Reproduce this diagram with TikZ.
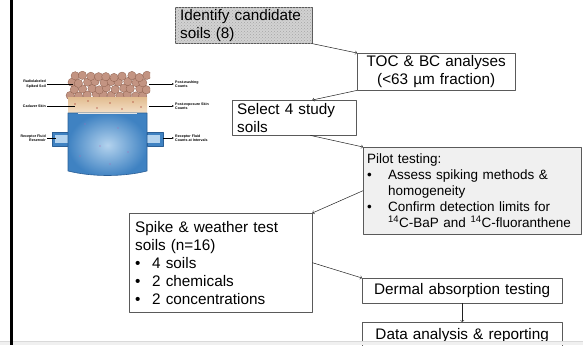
\documentclass[tikz,border=0pt]{standalone}
\usepackage{fontspec}
\setmainfont{Liberation Sans}
\usetikzlibrary{arrows.meta,patterns}

\newcommand{\stepfont}{\fontsize{15.3}{18}\selectfont}
\newcommand{\pilotfont}{\fontsize{13.5}{16.2}\selectfont}
\newcommand{\cellfont}{\fontsize{3.6}{4.4}\selectfont\bfseries}
\newcommand{\bulA}{\makebox[21pt][l]{\textbullet}}
\newcommand{\bulB}{\makebox[17pt][l]{\textbullet}}

\definecolor{boxline}{HTML}{5A5A5A}
\definecolor{pilotfill}{HTML}{F0F0F0}
\definecolor{soil}{HTML}{C39482}
\definecolor{soildark}{HTML}{8C5E4C}
\definecolor{skin}{HTML}{EBCBA3}
\definecolor{fluid}{HTML}{3F82C2}
\definecolor{fluidlight}{HTML}{B4D3EE}
\definecolor{fluiddark}{HTML}{2B5F96}

\begin{document}
\begin{tikzpicture}[x=1pt, y=-1pt, >=to, line join=round,
    flowbox/.style={draw=boxline, fill=white, anchor=north west, inner xsep=5pt,
      inner ysep=2pt, font=\stepfont, align=left},
    conn/.style={draw=gray!25!black, ->, line width=0.5pt},
    celllbl/.style={font=\cellfont, inner sep=0pt},
    cellline/.style={line width=0.35pt}]
  \useasboundingbox (0,0) rectangle (583,345);

  % diffusion cell: soil on skin over the receptor chamber
  \begin{scope}
    \clip (64,66) rectangle (150,99);
    \pgfmathsetseed{12}
    \foreach \r in {0,1,2,3}{
      \foreach \c in {0,...,9}{
        \pgfmathsetmacro{\px}{71+8*\c+mod(\r,2)*4+1.2*rand}
        \pgfmathsetmacro{\py}{95-6.2*\r+1.2*rand}
        \fill[soil, draw=soildark, line width=0.3pt] (\px,\py) circle (4.2pt);
      }
    }
  \end{scope}
  \shade[top color=skin!80!brown, bottom color=skin!60] (68,97) rectangle (147,113);
  \foreach \dx/\dy in {75/104, 88/101, 97/108, 110/103, 122/109, 133/102, 141/107}
    \fill[red!55!black] (\dx,\dy) circle (0.6pt);
  \fill[fluid, draw=fluiddark, line width=0.6pt] (52,132) rectangle (68,146);
  \fill[fluid, draw=fluiddark, line width=0.6pt] (147,132) rectangle (163,146);
  \fill[fluidlight] (55,135) rectangle (68,143);
  \fill[fluidlight] (147,135) rectangle (160,143);
  \shade[inner color=fluidlight, outer color=fluid, draw=fluiddark, line width=0.6pt]
    (68,113) -- (68,171) .. controls (92,177) and (123,177) .. (147,171) -- (147,113) -- cycle;
  \draw[gray!20, line width=1.2pt] (78,113.8) -- (137,113.8);
  \foreach \dx/\dy in {85/124, 118/128, 100/146, 80/156, 128/152, 110/164}
    \fill[violet!60] (\dx,\dy) circle (0.6pt);

  \node[celllbl, anchor=east, align=right] (soillbl) at (46,84) {Radiolabeled\\Spiked Soil};
  \node[celllbl, anchor=east, align=right] (skinlbl) at (46,106) {Cadaver Skin};
  \node[celllbl, anchor=east, align=right] (reslbl) at (46,138) {Receptor Fluid\\Reservoir};
  \node[celllbl, anchor=west, align=left] (washlbl) at (175,84) {Post-washing\\Counts};
  \node[celllbl, anchor=west, align=left] (exposlbl) at (175,106) {Post-exposure Skin\\Counts};
  \node[celllbl, anchor=west, align=left] (countlbl) at (175,138) {Receptor Fluid\\Counts at Intervals};
  \draw[cellline] (soillbl.east) ++(1,0) -- ++(26,0);
  \draw[cellline] (skinlbl.east) ++(1,0) -- ++(28,0);
  \draw[cellline] (reslbl.east) ++(1,0) -- ++(9,0);
  \draw[cellline, -{Latex[length=2pt,width=1.8pt]}] (washlbl.west) ++(-26,0) -- ++(25,0);
  \draw[cellline, -{Latex[length=2pt,width=1.8pt]}] (exposlbl.west) ++(-26,0) -- ++(25,0);
  \draw[cellline, -{Latex[length=2pt,width=1.8pt]}] (countlbl.west) ++(-12,0) -- ++(11,0);

  % study steps
  \node[flowbox, fill=gray!35, postaction={pattern=crosshatch dots, pattern color=gray!70},
    text width=127, minimum height=35] (ident) at (175,7) {Identify candidate\\soils (8)};
  \node[flowbox, align=center, text width=148, minimum height=37] (toc) at (357,53)
    {TOC \& BC analyses\\(<63 µm fraction)};
  \node[flowbox, text width=114, minimum height=35] (select) at (232,100) {Select 4 study\\soils};
  \node[flowbox, fill=pilotfill, font=\pilotfont, inner xsep=4pt, text width=210,
    minimum height=87] (pilot) at (363,147)
    {Pilot testing:\\
     \bulA Assess spiking methods \&\\
     \hspace*{21pt}homogeneity\\
     \bulA Confirm detection limits for\\
     \hspace*{21pt}\textsuperscript{14}C-BaP and \textsuperscript{14}C-fluoranthene};
  \node[flowbox, inner xsep=6pt, text width=171, minimum height=99] (spike) at (129,213)
    {Spike \& weather test\\
     soils (n=16)\\
     \bulB 4 soils\\
     \bulB 2 chemicals\\
     \bulB 2 concentrations};
  \node[flowbox, align=center, text width=190, minimum height=25] (dermal) at (362,278)
    {Dermal absorption testing};
  \node[flowbox, align=center, text width=190, minimum height=26] (data) at (362,322)
    {Data analysis \& reporting};

  \draw[conn] (ident.south east) -- (toc.north west);
  \draw[conn] (toc.south west) -- ([xshift=-44pt]select.north east);
  \draw[conn] ([xshift=-46pt]select.south east) -- (pilot.north west);
  \draw[conn] (pilot.west) -- (spike.north east);
  \draw[conn] (spike.east) -- (dermal.north west);
  \draw[conn] (dermal.south) -- (data.north);

  % frame edges
  \fill[gray!12] (0,341.5) rectangle (583,345);
  \draw[gray!30, line width=0.4pt] (0,341.5) -- (583,341.5);
  \draw[line width=2.8pt] (11.5,0) -- (11.5,345);
\end{tikzpicture}
\end{document}
